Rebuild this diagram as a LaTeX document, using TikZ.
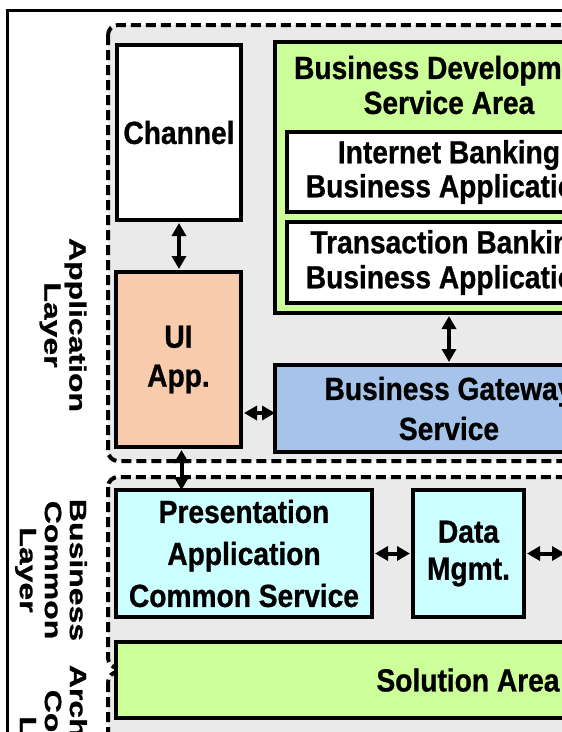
\documentclass[tikz,border=0pt]{standalone}
\usepackage{fontspec}
\setmainfont{Liberation Sans}[FakeStretch=0.88, BoldFeatures={FakeBold=0.8}]
\newfontfamily\sidefont{Liberation Sans}[FakeStretch=1.36, BoldFeatures={FakeBold=1}]
\usetikzlibrary{arrows.meta}
\definecolor{layergray}{RGB}{234,234,234}
\definecolor{uipeach}{RGB}{248,203,173}
\definecolor{areagreen}{RGB}{204,255,153}
\definecolor{gateblue}{RGB}{166,195,234}
\definecolor{commoncyan}{RGB}{204,255,255}
\begin{document}
\begin{tikzpicture}[x=1pt,y=-1pt,
  box/.style={draw=black, line width=3.2pt, inner sep=0pt, outer sep=0pt, align=center},
  txt/.style={font=\bfseries\fontsize{32}{#1}\selectfont},
  txt/.default=38,
  layer/.style={draw=black, fill=layergray, line width=4pt, dash pattern=on 10pt off 5pt, rounded corners=10pt},
  sidelabel/.style={rotate=-90, align=center, inner sep=0pt, font=\sidefont\bfseries\fontsize{23.5}{25}\selectfont},
  link/.style={{Triangle[length=13pt,width=14pt]}-{Triangle[length=13pt,width=14pt]}, line width=4pt, shorten <=3pt, shorten >=3pt}
]
\useasboundingbox (0,0) rectangle (562,732);
\clip (0,0) rectangle (562,732);

% outer frame
\draw[line width=3pt] (7,10) rectangle (900,1000);

% layers
\path[layer] (108,25) rectangle (900,461);
\path[layer] (108,477) rectangle (900,668);
\path[layer] (108,672) rectangle (900,1000);

% layer captions
\node[sidelabel] (appl) at (63,325) {Application\\Layer};
\node[sidelabel] (bcl) at (51,570) {Business\\Common\\Layer};
\node[sidelabel] (acl) at (51,759) {Architecture\\Common\\Layer};

% application layer
\node[box, fill=white, minimum width=124pt, minimum height=175pt, txt] (ch) at (179,132.5) {Channel};
\node[box, fill=uipeach, minimum width=125pt, minimum height=175pt, txt=39] (ui) at (178.5,359.5) {UI\\App.};
\node[box, fill=areagreen, minimum width=348pt, minimum height=271pt] (bd) at (449,177.5) {};
\node[align=center, inner sep=0pt, txt=35] (bdt) at (449,85) {Business Development\\Service Area};
\node[box, fill=white, minimum width=324pt, minimum height=80pt, txt=34] (ib) at (449,172) {Internet Banking\\Business Application};
\node[box, fill=white, minimum width=324pt, minimum height=81pt, txt=35] (tb) at (449,262.5) {Transaction Banking\\Business Application};
\node[box, fill=gateblue, minimum width=348pt, minimum height=87pt, txt=40] (gw) at (449,408.5) {Business Gateway\\Service};

% business common layer
\node[box, fill=commoncyan, minimum width=256pt, minimum height=127pt, txt=42] (pa) at (244,553.5) {Presentation\\Application\\Common Service};
\node[box, fill=commoncyan, minimum width=111pt, minimum height=127pt, txt=37] (dm) at (468.5,553.5) {Data\\Mgmt.};
\coordinate (dmout) at (565,553.5);

% architecture common layer
\node[box, fill=areagreen, minimum width=704pt, minimum height=76pt, txt] (sa) at (468,680) {Solution Area};

% connectors
\draw[link] (ch.south) -- (ch.south |- ui.north);
\draw[link, shorten >=0pt] ([yshift=-4.5pt]ui.east |- gw.center) -- ([yshift=-4.5pt]gw.west);
\draw[link] (bd.south) -- (gw.north);
\draw[link, shorten >=0pt] ([xshift=3pt]ui.south) -- ([xshift=3pt]ui.south |- pa.north);
\draw[link] (pa.east) -- (dm.west);
\draw[link, shorten >=0pt] (dm.east) -- (dmout);
\end{tikzpicture}
\end{document}
